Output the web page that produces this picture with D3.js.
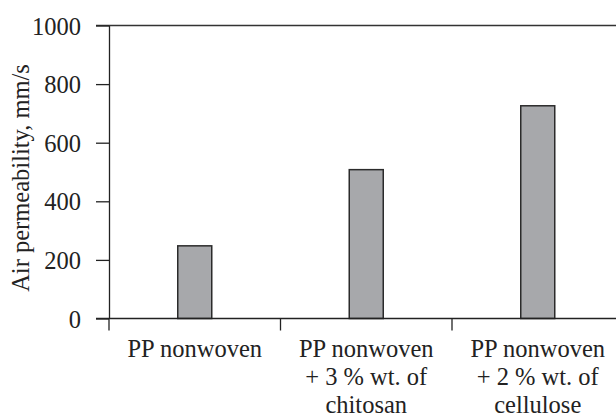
<!DOCTYPE html>
<html>
<head>
<meta charset="utf-8">
<script src="https://cdn.jsdelivr.net/npm/d3@7"></script>
<style>
  body { margin: 0; background: #fff; }
  svg { display: block; }
</style>
</head>
<body>
<div id="content"></div>
<script>
// values
let categories = ['A', 'B', 'C'];
let categoryLines = [
  ['PP nonwoven'],
  ['PP nonwoven', '+ 3 % wt. of', 'chitosan'],
  ['PP nonwoven', '+ 2 % wt. of', 'cellulose']
];
let values = [248, 508, 726];
let yTicks = [0, 200, 400, 600, 800, 1000];

let width = 616;
let height = 417;
let margin = {left: 109, top: 25.5, bottom: 417 - 318.5};
let plotRight = 109 + 3 * 171.5;
let serif = 'Liberation Serif';
let fontSize = 24.5;

let svg = d3.select('#content').append('svg')
  .attr('width', width)
  .attr('height', height);

let x = d3.scaleBand()
  .domain(categories)
  .range([margin.left, plotRight])
  .paddingInner(0)
  .paddingOuter(0);

let y = d3.scaleLinear()
  .domain([0, 1000])
  .range([height - margin.bottom, margin.top]);

let barWidth = 34;

// top frame line
svg.append('line')
  .attr('x1', 96).attr('x2', plotRight)
  .attr('y1', y(1000)).attr('y2', y(1000))
  .attr('stroke', '#333').attr('stroke-width', 1.5);

// bars
svg.selectAll('rect.bar').data(values).enter().append('rect')
  .attr('class', 'bar')
  .attr('x', (d, i) => x(categories[i]) + x.bandwidth() / 2 - barWidth / 2)
  .attr('width', barWidth)
  .attr('y', d => y(d))
  .attr('height', d => y(0) - y(d))
  .attr('fill', '#a7a8ab')
  .attr('stroke', '#2b2b2b')
  .attr('stroke-width', 1.5);

// y axis
let yAxis = svg.append('g')
  .attr('transform', `translate(${margin.left},0)`)
  .call(d3.axisLeft(y).tickValues(yTicks).tickFormat(d3.format('d'))
    .tickSize(13).tickPadding(15).tickSizeOuter(0));
yAxis.attr('font-family', serif).attr('font-size', fontSize);
yAxis.select('.domain').attr('stroke', '#222').attr('stroke-width', 1.3);
yAxis.selectAll('.tick line').attr('stroke', '#222').attr('stroke-width', 1.3);
yAxis.selectAll('.tick text')
  .attr('font-family', serif)
  .attr('font-size', fontSize)
  .attr('fill', '#222')
  .attr('dy', '0.35em');

// x axis: ticks at band boundaries
let xAxis = svg.append('g')
  .attr('transform', `translate(0,${y(0)})`);
xAxis.append('line')
  .attr('x1', 96).attr('x2', plotRight)
  .attr('stroke', '#222').attr('stroke-width', 1.3);
xAxis.selectAll('line.tick').data(categories).enter().append('line')
  .attr('class', 'tick')
  .attr('x1', d => x(d)).attr('x2', d => x(d))
  .attr('y1', 0).attr('y2', 12)
  .attr('stroke', '#222').attr('stroke-width', 1.3);

// category labels
let labels = svg.selectAll('text.cat').data(categoryLines).enter().append('text')
  .attr('class', 'cat')
  .attr('text-anchor', 'middle')
  .attr('font-family', serif)
  .attr('font-size', fontSize)
  .attr('fill', '#222');
labels.each(function(lines, i) {
  let cx = x(categories[i]) + x.bandwidth() / 2;
  d3.select(this).selectAll('tspan').data(lines).enter().append('tspan')
    .attr('x', cx)
    .attr('y', (d, k) => 356.5 + k * 28.3)
    .text(d => d);
});

// y axis title
svg.append('text')
  .attr('transform', 'translate(29,178) rotate(-90)')
  .attr('text-anchor', 'middle')
  .attr('font-family', serif)
  .attr('font-size', fontSize)
  .attr('fill', '#222')
  .text('Air permeability, mm/s');
</script>
</body>
</html>
